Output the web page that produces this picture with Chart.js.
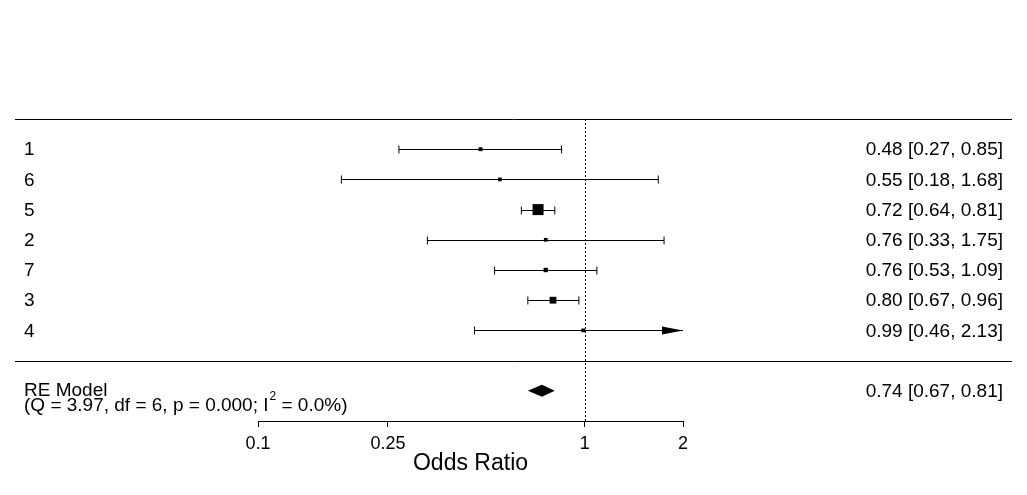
<!DOCTYPE html>
<html>
<head>
<meta charset="utf-8">
<script src="https://cdn.jsdelivr.net/npm/chart.js@4.4.0/dist/chart.umd.min.js"></script>
<style>
  html, body { margin: 0; padding: 0; background: #fff; }
</style>
</head>
<body>
<canvas id="forest" width="1027" height="495"></canvas>
<script>
// study data (odds ratios, 95% CI), top to bottom
const studies = ['1', '6', '5', '2', '7', '3', '4'];
const estimates = [0.48, 0.55, 0.72, 0.76, 0.76, 0.80, 0.99];
const lower = [0.27, 0.18, 0.64, 0.33, 0.53, 0.67, 0.46];
const upper = [0.85, 1.68, 0.81, 1.75, 1.09, 0.96, 2.13];
const rows = [7, 6, 5, 4, 3, 2, 1];

// random-effects summary
const reLabel = 'RE Model';
const reEst = 0.74;
const reLower = 0.67;
const reUpper = 0.81;
const reRow = -1;
const hetParts = ['(Q = 3.97, df = 6, p = 0.000; I', '2', ' = 0.0%)'];

const tickValues = [0.1, 0.25, 1, 2];
const xMin = 0.1, xMax = 2;

const FONT = '"Liberation Sans", Arial, sans-serif';

// square size ~ inverse variance weight, like metafor (cex 0.5 .. 1.5)
const wts = lower.map((lb, i) => 1 / Math.pow(Math.log(upper[i] / lb), 2));
const wMin = Math.min(...wts), wMax = Math.max(...wts);
const radii = wts.map(w => 7.33 * (0.5 + (w - wMin) / (wMax - wMin)) / (2 * Math.SQRT1_2));

const fmt = (e, l, u) => e.toFixed(2) + ' [' + l.toFixed(2) + ', ' + u.toFixed(2) + ']';

const forestPlugin = {
  id: 'forest',
  beforeDatasetsDraw(chart) {
    const ctx = chart.ctx;
    const xs = chart.scales.x, ys = chart.scales.y;
    ctx.save();
    ctx.strokeStyle = '#000';
    ctx.fillStyle = '#000';
    ctx.lineWidth = 1;

    // reference line at OR = 1
    const x1 = Math.round(xs.getPixelForValue(1)) + 0.5;
    ctx.setLineDash([2, 2]);
    ctx.beginPath();
    ctx.moveTo(x1, ys.getPixelForValue(8));
    ctx.lineTo(x1, ys.getPixelForValue(-2));
    ctx.stroke();
    ctx.setLineDash([]);

    // confidence intervals
    estimates.forEach((e, i) => {
      const y = Math.round(ys.getPixelForValue(rows[i])) + 0.5;
      const xl = xs.getPixelForValue(Math.max(lower[i], xMin));
      const xu = xs.getPixelForValue(Math.min(upper[i], xMax));
      ctx.beginPath();
      ctx.moveTo(xl, y);
      ctx.lineTo(xu, y);
      if (lower[i] >= xMin) { ctx.moveTo(xl, y - 4); ctx.lineTo(xl, y + 4); }
      if (upper[i] <= xMax) { ctx.moveTo(xu, y - 4); ctx.lineTo(xu, y + 4); }
      ctx.stroke();
      if (upper[i] > xMax) {
        ctx.beginPath();
        ctx.moveTo(xu - 21, y - 4);
        ctx.lineTo(xu, y);
        ctx.lineTo(xu - 21, y + 4);
        ctx.closePath();
        ctx.fill();
      }
    });
    ctx.restore();
  },
  afterDraw(chart) {
    const ctx = chart.ctx;
    const xs = chart.scales.x, ys = chart.scales.y;
    ctx.save();
    ctx.strokeStyle = '#000';
    ctx.fillStyle = '#000';
    ctx.lineWidth = 1;

    // horizontal separators
    [8, 0].forEach(r => {
      const y = Math.round(ys.getPixelForValue(r)) + 0.5;
      ctx.beginPath();
      ctx.moveTo(15, y);
      ctx.lineTo(1012, y);
      ctx.stroke();
    });

    // summary diamond
    const yr = ys.getPixelForValue(reRow);
    ctx.beginPath();
    ctx.moveTo(xs.getPixelForValue(reLower), yr);
    ctx.lineTo(xs.getPixelForValue(reEst), yr - 6);
    ctx.lineTo(xs.getPixelForValue(reUpper), yr);
    ctx.lineTo(xs.getPixelForValue(reEst), yr + 6);
    ctx.closePath();
    ctx.fill();

    // labels
    ctx.font = '19px ' + FONT;
    ctx.textBaseline = 'middle';
    studies.forEach((s, i) => {
      const y = ys.getPixelForValue(rows[i]) + 1;
      ctx.textAlign = 'left';
      ctx.fillText(s, 24, y);
      ctx.textAlign = 'right';
      ctx.fillText(fmt(estimates[i], lower[i], upper[i]), 1003, y);
    });
    ctx.textAlign = 'right';
    ctx.fillText(fmt(reEst, reLower, reUpper), 1003, yr + 1);

    ctx.textAlign = 'left';
    ctx.fillText(reLabel, 24, yr);
    const y2 = yr + 15;
    ctx.fillText(hetParts[0], 24, y2);
    let xp = 24 + ctx.measureText(hetParts[0]).width + 1;
    ctx.font = '12px ' + FONT;
    ctx.fillText(hetParts[1], xp, y2 - 9);
    xp += ctx.measureText(hetParts[1]).width;
    ctx.font = '19px ' + FONT;
    ctx.fillText(hetParts[2], xp, y2);
    ctx.restore();
  }
};

new Chart(document.getElementById('forest'), {
  type: 'scatter',
  data: {
    datasets: [{
      data: estimates.map((e, i) => ({ x: e, y: rows[i] })),
      pointStyle: 'rect',
      pointRadius: radii,
      pointHoverRadius: radii,
      backgroundColor: '#000',
      borderWidth: 0
    }]
  },
  options: {
    responsive: false,
    animation: false,
    devicePixelRatio: 1,
    events: [],
    layout: { padding: { left: 258, right: 344, top: 119, bottom: 17 } },
    plugins: { legend: { display: false }, tooltip: { enabled: false } },
    scales: {
      x: {
        type: 'logarithmic',
        min: xMin,
        max: xMax,
        afterBuildTicks: scale => { scale.ticks = tickValues.map(v => ({ value: v })); },
        ticks: {
          autoSkip: false,
          maxRotation: 0,
          padding: 8,
          color: '#000',
          font: { family: FONT, size: 18, lineHeight: 1 },
          callback: v => String(v)
        },
        grid: { drawOnChartArea: false, drawTicks: true, tickLength: 6, color: '#000', lineWidth: 1 },
        border: { display: true, color: '#000', width: 1 },
        title: {
          display: true,
          text: 'Odds Ratio',
          color: '#000',
          padding: { top: -9, bottom: 3 },
          font: { family: FONT, size: 23, lineHeight: 1 }
        }
      },
      y: { type: 'linear', min: -2, max: 8, display: false }
    }
  },
  plugins: [forestPlugin]
});
</script>
</body>
</html>
